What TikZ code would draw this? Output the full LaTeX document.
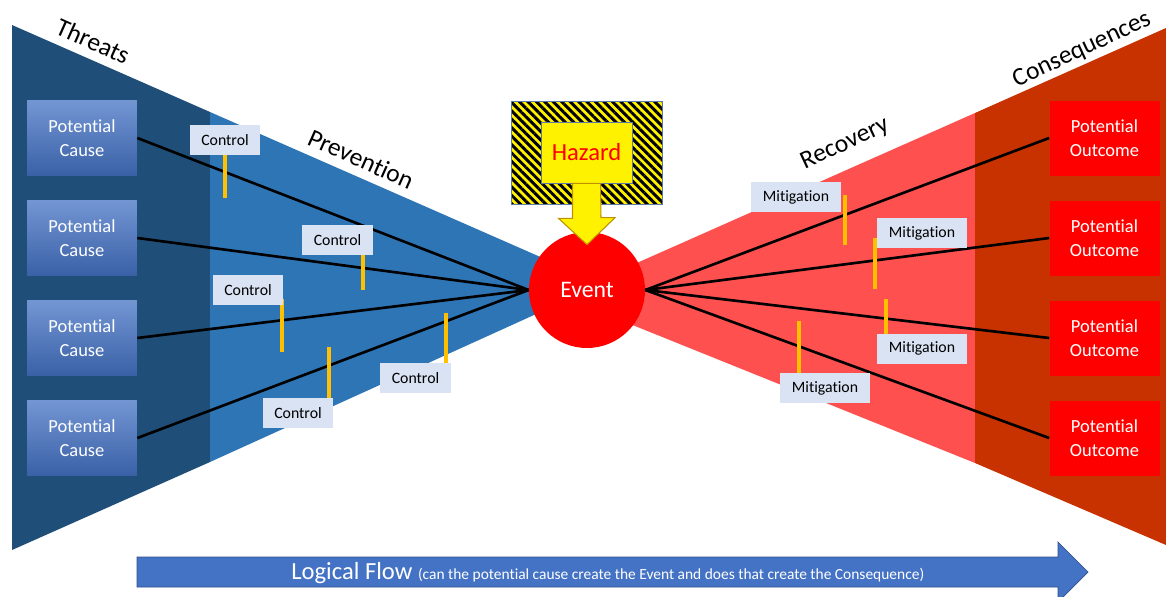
\documentclass[tikz,border=0pt]{standalone}
\usepackage{fontspec}
\setmainfont{Carlito}[Ligatures=NoCommon]
\usetikzlibrary{patterns.meta}
\definecolor{dblue}{HTML}{1F4E79}
\definecolor{mblue}{HTML}{2E75B6}
\definecolor{cblue}{HTML}{4472C4}
\definecolor{lred}{HTML}{FF5050}
\definecolor{dred}{HTML}{C83200}
\definecolor{tagbg}{HTML}{DAE3F3}
\definecolor{barorange}{HTML}{FFC000}
\definecolor{gold}{HTML}{BF9000}

\tikzset{
  cause/.style={top color=cblue!75!white, bottom color=cblue!85!black, text=white,
    minimum width=2.2cm, minimum height=1.5cm, align=center, font=\fontsize{10.5}{13.7}\selectfont},
  outcome/.style={fill=red, text=white, minimum width=2.2cm, minimum height=1.5cm,
    align=center, font=\fontsize{10.5}{13.7}\selectfont},
  tag/.style={fill=tagbg, minimum height=0.6cm, inner xsep=2pt, font=\fontsize{9}{10}\selectfont},
  link/.style={line width=1.5pt, black},
  barrier/.style={line width=2.2pt, barorange},
  heading/.style={font=\fontsize{14.5}{16}\selectfont}
}

\begin{document}
\begin{tikzpicture}[x=0.02cm, y=-0.02cm]
\useasboundingbox (0,0) rectangle (1166,596);

% funnels
\fill[dblue] (12,25) -- (210,112) -- (210,462) -- (12,550) -- cycle;
\fill[mblue] (210,112) -- (545,259) -- (545,310) -- (210,462) -- cycle;
\fill[lred] (630,266) -- (975,113) -- (975,463) -- (630,324) -- cycle;
\fill[dred] (975,113) -- (1166,28) -- (1166,545) -- (975,463) -- cycle;

\node[heading, rotate=-24] at (93,41) {Threats};
\node[heading, rotate=-24] at (361,159) {Prevention};
\node[heading, rotate=25] at (845,144) {Recovery};
\node[heading, rotate=25] at (1082,50) {Consequences};

% hazard
\fill[yellow] (511,101) rectangle (662,204);
\fill[pattern={Lines[angle=-45, distance=3.4pt, line width=1.7pt]}, pattern color=black]
  (511,101) rectangle (662,204);
\draw[cblue!60!gray, line width=0.4pt] (511,101) rectangle (662,204);
\node[fill=yellow, draw=cblue!60!gray, line width=0.4pt, minimum width=1.82cm, minimum height=1.22cm,
  text=red, font=\fontsize{14}{16}\selectfont] (hz) at (586.5,152.5) {Hazard};

\node[circle, fill=red, minimum size=2.32cm, text=white, font=\fontsize{13.5}{15}\selectfont]
  (ev) at (587,290) {Event};

\draw[fill=yellow, draw=gold, line width=0.6pt] ([xshift=-0.28cm]hz.south) -- ++(0,35) -- ++(-14,0)
  -- ([yshift=-0.26cm]ev.north) -- ++(28,-27) -- ++(-14,0) -- ([xshift=0.28cm]hz.south) -- cycle;

% causes and outcomes
\foreach \i/\y in {1/138, 2/238, 3/338, 4/438} {
  \node[cause] (c\i) at (82,\y) {Potential\\Cause};
  \node[outcome] (o\i) at (1104.5,\y) {Potential\\Outcome};
  \draw[link] (c\i.east) -- (ev.west);
  \draw[link] (ev.east) -- (o\i.west);
}

% barriers
\foreach \x/\ya/\yb in {225/150/198, 363/250/290, 282/299/352, 329/347/403, 446/313/368,
                        845/195/245, 875/238/289, 886/299/338, 799/321/378} {
  \draw[barrier] (\x,\ya) -- (\x,\yb);
}

\node[tag, minimum width=1.4cm] (k1) at (225,140) {Control};
\node[tag, minimum width=1.42cm] (k2) at (337.5,240) {Control};
\node[tag, minimum width=1.4cm] (k3) at (248,290) {Control};
\node[tag, minimum width=1.4cm] (k4) at (298,413) {Control};
\node[tag, minimum width=1.42cm] (k5) at (415.5,378) {Control};

\node[tag, minimum width=1.8cm] (m1) at (796,197) {Mitigation};
\node[tag, minimum width=1.8cm] (m2) at (922,233) {Mitigation};
\node[tag, minimum width=1.8cm] (m3) at (922,348.5) {Mitigation};
\node[tag, minimum width=1.8cm] (m4) at (825,388) {Mitigation};

% logical flow
\draw[fill=cblue, draw=cblue!70!black, line width=0.4pt] (137,557) -- (1058,557) -- (1058,542)
  -- (1088,572) -- (1058,602) -- (1058,587) -- (137,587) -- cycle;
\node[anchor=base west, text=white, inner sep=0pt] (flow) at (291,579)
  {\fontsize{14}{16}\selectfont Logical Flow \fontsize{8.8}{10}\selectfont(can the potential cause create the Event and does that create the Consequence)};
\end{tikzpicture}
\end{document}
